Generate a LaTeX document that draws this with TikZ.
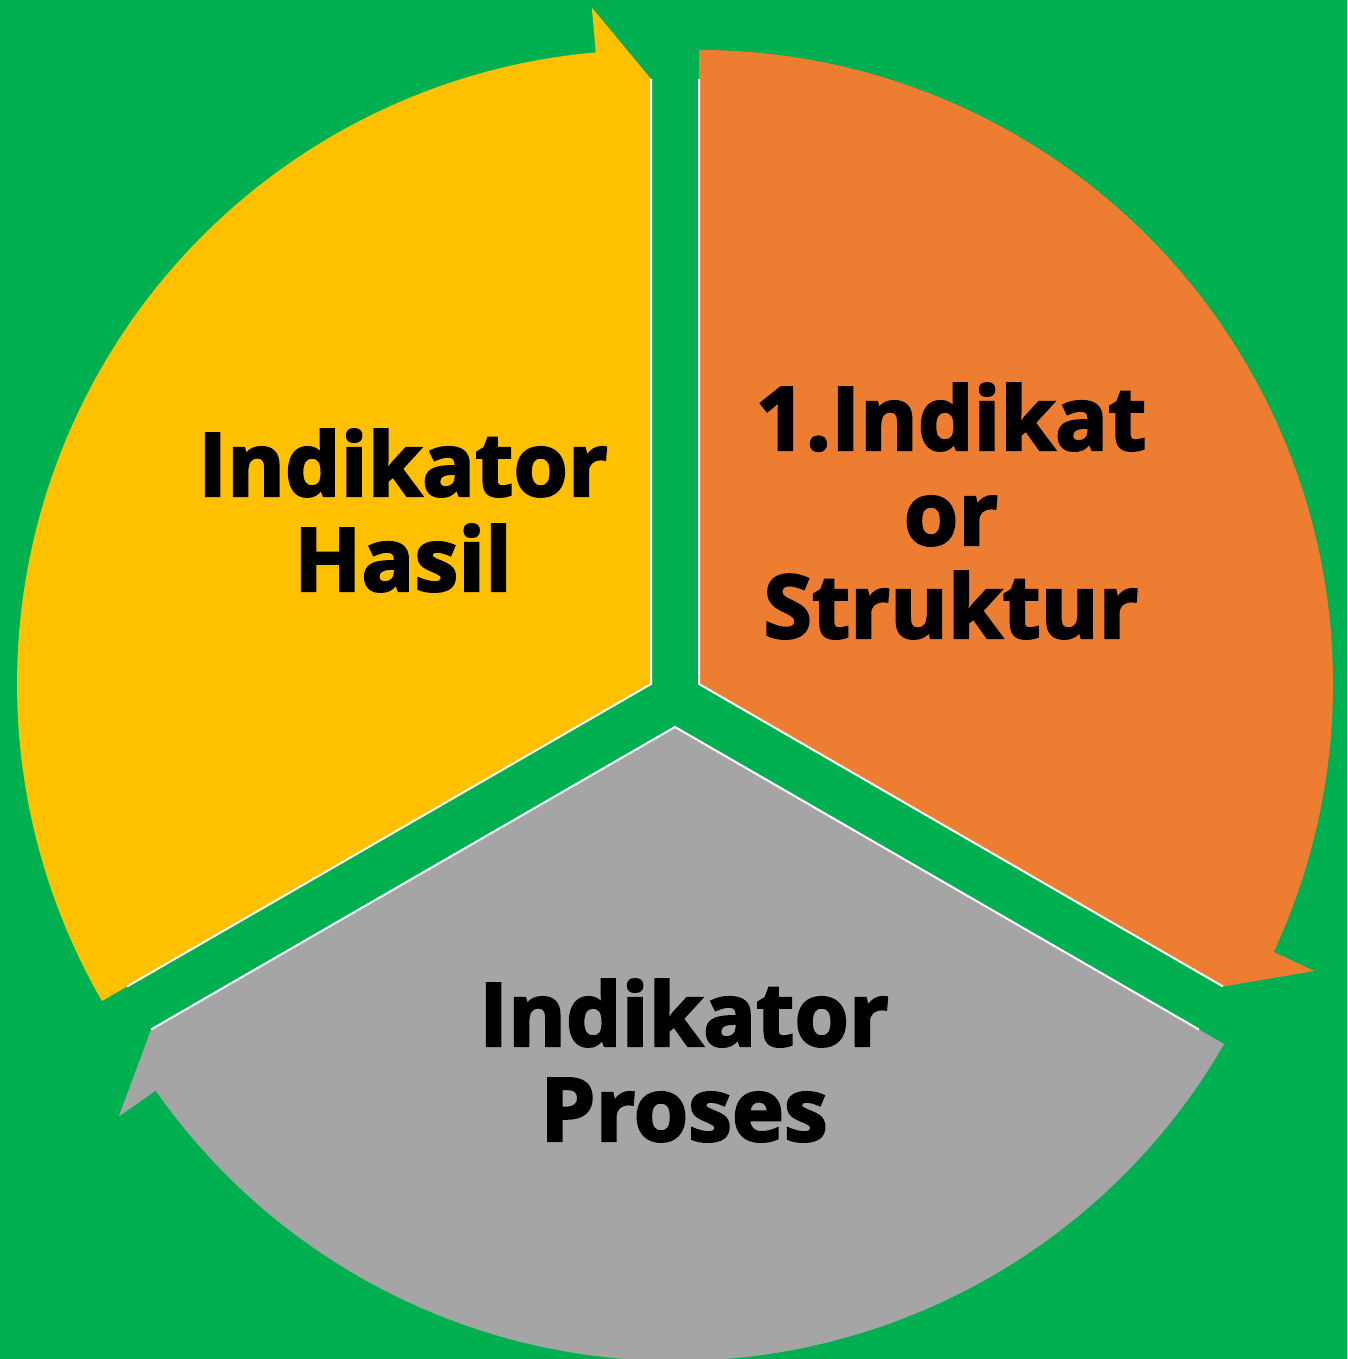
\documentclass[tikz,border=0pt]{standalone}
\usepackage{fontspec}
\usetikzlibrary{calc}
\setmainfont{Open Sans}[BoldFeatures={FakeBold=2.5}]
\definecolor{bggreen}{HTML}{00B050}
\definecolor{segyellow}{HTML}{FFC000}
\definecolor{segorange}{HTML}{ED7D31}
\definecolor{seggray}{HTML}{A5A5A5}
\begin{document}
\begin{tikzpicture}[x=1pt,y=1pt,
  edgeline/.style={draw=white,line width=2pt},
  lbl/.style={anchor=base,inner sep=0pt,font=\fontsize{88}{95}\selectfont\bfseries,text=black}]
\fill[bggreen] (0,0) rectangle (1347,1359);
\useasboundingbox (0,0) rectangle (1347,1359);
% vertices of the three segments
\coordinate (vy) at (651,675);
\coordinate (vo) at (699,675);
\coordinate (vg) at (675,632);
% yellow segment
\fill[segyellow] (vy) -- ($(vy)+(210:634)$) arc[start angle=210,end angle=95,radius=634]
  -- ($(vy)+(95:679)$) -- ($(vy)+(90:605)$) -- cycle;
% orange segment
\fill[segorange] (vo) -- ($(vo)+(90:634)$) arc[start angle=90,end angle=-25,radius=634]
  -- ($(vo)+(-25:679)$) -- ($(vo)+(-30:605)$) -- cycle;
% gray segment
\fill[seggray] (vg) -- ($(vg)+(-30:634)$) arc[start angle=-30,end angle=-145,radius=634]
  -- ($(vg)+(215:679)$) -- ($(vg)+(210:605)$) -- cycle;
% white edges
\draw[edgeline] ($(vy)+(90:605)$) -- (vy) -- ($(vy)+(210:605)$);
\draw[edgeline] ($(vo)+(90:605)$) -- (vo) -- ($(vo)+(-30:605)$);
\draw[edgeline] ($(vg)+(210:605)$) -- (vg) -- ($(vg)+(-30:605)$);
% labels
\node[lbl] (y1) at (403,863) {Indikator};
\node[lbl] (y2) at (403,768) {Hasil};
\node[lbl] (o1) at (951,909) {1.Indikat};
\node[lbl] (o2) at (951,814) {or};
\node[lbl] (o3) at (951,721) {Struktur};
\node[lbl] (g1) at (684,313) {Indikator};
\node[lbl] (g2) at (684,218) {Proses};
\end{tikzpicture}
\end{document}
